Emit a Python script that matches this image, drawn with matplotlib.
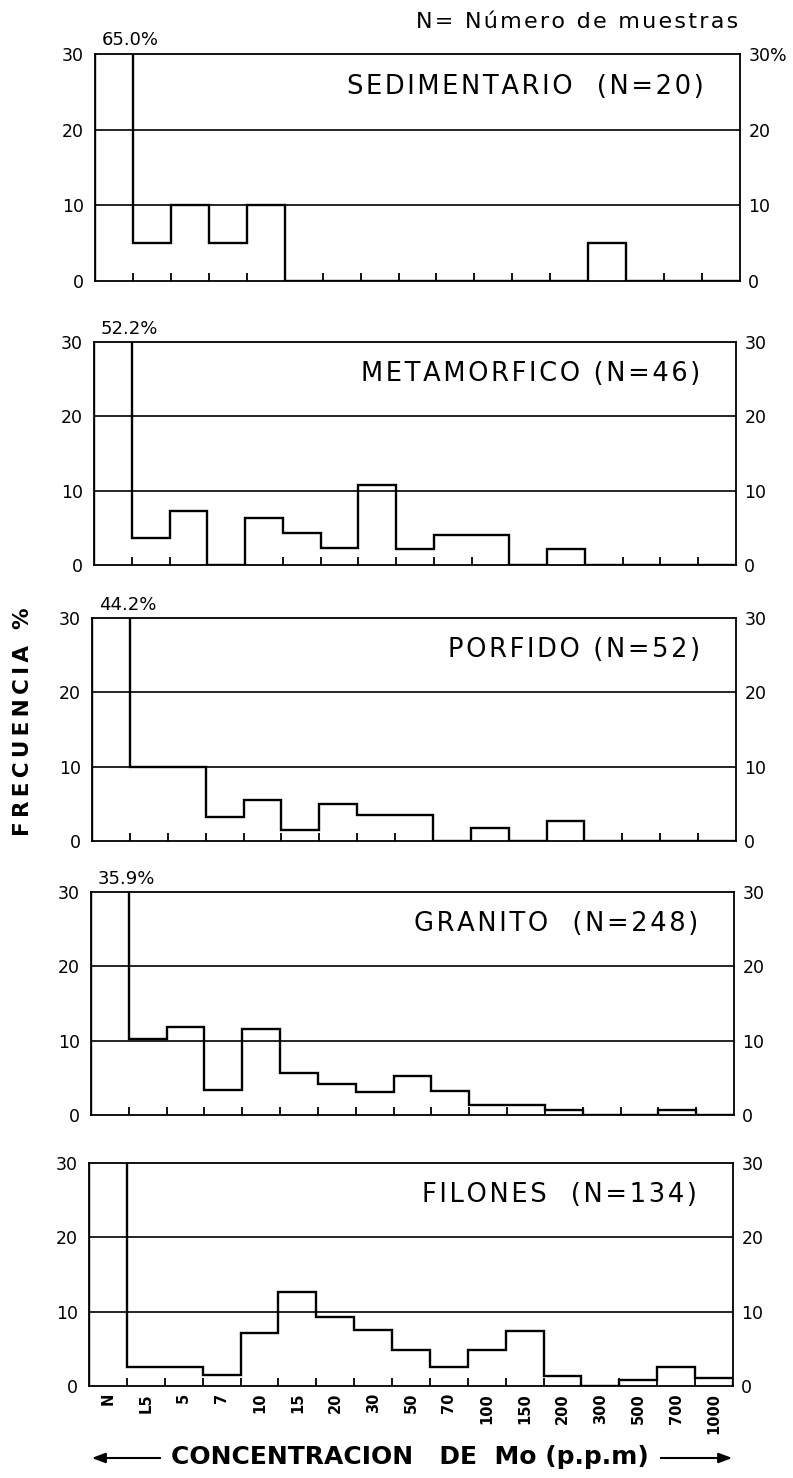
import matplotlib
matplotlib.use("Agg")
import matplotlib.pyplot as plt
import numpy as np

plt.rcParams['font.family'] = ['DejaVu Sans']

categories = ["N", "L5", "5", "7", "10", "15", "20", "30", "50", "70",
              "100", "150", "200", "300", "500", "700", "1000"]

titles = ["SEDIMENTARIO  (N=20)", "METAMORFICO (N=46)", "PORFIDO (N=52)",
          "GRANITO  (N=248)", "FILONES  (N=134)"]

top_labels = ["65.0%", "52.2%", "44.2%", "35.9%", None]

sedimentario = [65.0, 5.0, 10.0, 5.0, 10.0, 0, 0, 0, 0, 0, 0, 0, 0, 5.0, 0, 0, 0]
metamorfico = [52.2, 3.6, 7.3, 0, 6.3, 4.3, 2.3, 10.8, 2.2, 4.1, 4.1, 0, 2.1, 0, 0, 0, 0]
porfido = [44.2, 10.0, 10.0, 3.2, 5.5, 1.5, 5.0, 3.5, 3.5, 0, 1.8, 0, 2.7, 0, 0, 0, 0]
granito = [35.9, 10.2, 11.8, 3.3, 11.6, 5.7, 4.2, 3.1, 5.3, 3.2, 1.35, 1.35, 0.7, 0, 0, 0.7, 0]
filones = [31.8, 2.5, 2.5, 1.45, 7.1, 12.6, 9.3, 7.5, 4.8, 2.5, 4.8, 7.4, 1.35, 0, 0.8, 2.55, 1.1]

series = [sedimentario, metamorfico, porfido, granito, filones]

yticks = [0, 10, 20, 30]
right_labels_first = ["0", "10", "20", "30%"]
right_labels = ["0", "10", "20", "30"]


def spaced(s, sep="\u2009"):
    return sep.join(list(s))


W, H = 793, 1478
fig = plt.figure(figsize=(W / 100, H / 100), dpi=100)
fig.patch.set_facecolor("white")

# panel pixel boxes: (left, right, top, bottom)
boxes = [(95, 740, 54, 281), (94, 736, 342, 565), (92, 736, 618, 841),
         (91, 734, 892, 1115), (89, 733, 1163, 1386)]

n = len(categories)
edges = np.arange(n + 1)

for i, (vals, box) in enumerate(zip(series, boxes)):
    l, r, t, b = box
    ax = fig.add_axes([l / W, 1 - b / H, (r - l) / W, (b - t) / H])
    ax.set_xlim(0, n)
    ax.set_ylim(0, 30)
    for yv in (10, 20):
        ax.axhline(yv, color="black", lw=1.2, zorder=1)
    ax.stairs(vals, edges, baseline=0, fill=False, color="black", lw=1.7,
              zorder=3, clip_on=True)
    for s in ax.spines.values():
        s.set_linewidth(1.3)
        s.set_color("black")
    ax.set_yticks(yticks)
    ax.set_yticklabels([str(v) for v in yticks])
    ax.tick_params(axis="y", length=0, labelsize=12.5, pad=8)
    ax2 = ax.twinx()
    ax2.set_ylim(0, 30)
    ax2.set_yticks(yticks)
    ax2.set_yticklabels(right_labels_first if i == 0 else right_labels)
    ax2.tick_params(axis="y", length=0, labelsize=12.5, pad=6)
    for s in ax2.spines.values():
        s.set_visible(False)
    ax.set_xticks(edges[1:-1], minor=True)
    ax.tick_params(axis="x", which="minor", direction="in", length=6,
                   width=1.3, color="black")
    ax.tick_params(axis="x", which="major", length=0)
    if i == len(series) - 1:
        ax.set_xticks(edges[:-1] + 0.5)
        ax.set_xticklabels(categories, rotation=90, fontsize=10.5,
                           fontweight="bold", va="top")
        ax.tick_params(axis="x", which="major", pad=5)
    else:
        ax.set_xticks([])
    ax.text(16.05, 25.7, spaced(titles[i], "\u200a"), ha="right",
            va="center", fontsize=18.5)
    if top_labels[i]:
        ax.text(0.18, 30.6, top_labels[i], ha="left", va="bottom",
                fontsize=13, clip_on=False)

fig.text(738 / W, 1 - 22 / H, spaced("N= Número de muestras", "\u200a"),
         ha="right", va="center", fontsize=16)

fig.text(23 / W, 1 - 722 / H, spaced("FRECUENCIA %"), rotation=90,
         ha="center", va="center", fontsize=15.5, fontweight="bold")

fig.text(410 / W, 1 - 1457 / H, "CONCENTRACION   DE  Mo (p.p.m)",
         ha="center", va="center", fontsize=18, fontweight="bold")
y_ar = 1 - 1458 / H
fig.add_artist(matplotlib.patches.FancyArrowPatch(
    (163 / W, y_ar), (89 / W, y_ar), transform=fig.transFigure,
    arrowstyle="-|>,head_length=8,head_width=3", lw=1.5, color="black"))
fig.add_artist(matplotlib.patches.FancyArrowPatch(
    (658 / W, y_ar), (735 / W, y_ar), transform=fig.transFigure,
    arrowstyle="-|>,head_length=8,head_width=3", lw=1.5, color="black"))

fig.savefig("out.png", dpi=100, facecolor="white")
